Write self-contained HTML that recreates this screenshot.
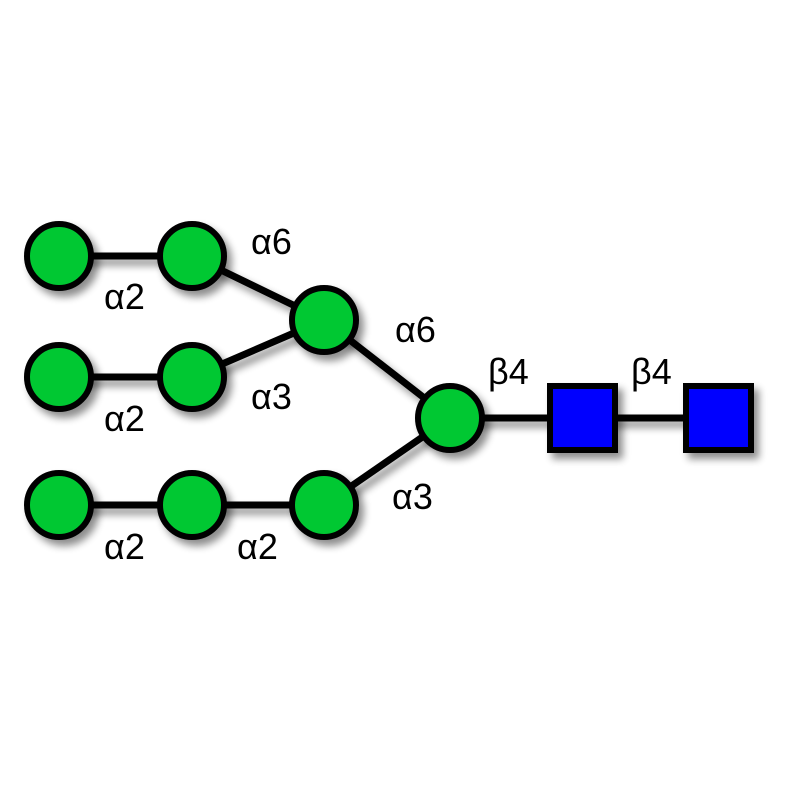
<!DOCTYPE html>
<html><head><style>body{margin:0;background:#fff}</style></head><body>
<svg width="800" height="800" viewBox="0 0 800 800" xmlns="http://www.w3.org/2000/svg">
<defs><filter id="s" x="-30%" y="-30%" width="170%" height="170%"><feGaussianBlur in="SourceAlpha" stdDeviation="4"/><feOffset dx="5" dy="6"/><feComponentTransfer><feFuncA type="linear" slope="0.45"/></feComponentTransfer><feMerge><feMergeNode/><feMergeNode in="SourceGraphic"/></feMerge></filter></defs>
<g stroke="#000" stroke-width="7" filter="url(#s)">
<line x1="59" y1="256" x2="192" y2="256"/><line x1="192" y1="256" x2="324" y2="320"/>
<line x1="59" y1="377" x2="192" y2="377"/><line x1="192" y1="377" x2="324" y2="320"/>
<line x1="59" y1="505" x2="324" y2="505"/><line x1="324" y1="320" x2="450" y2="418"/>
<line x1="324" y1="505" x2="450" y2="418"/><line x1="450" y1="418" x2="718" y2="418"/>
</g>
<g fill="#00c832" stroke="#000" stroke-width="6" filter="url(#s)">
<circle cx="59" cy="256" r="32"/><circle cx="192" cy="256" r="32"/><circle cx="324" cy="320" r="32"/>
<circle cx="59" cy="377" r="32"/><circle cx="192" cy="377" r="32"/>
<circle cx="59" cy="505" r="32"/><circle cx="192" cy="505" r="32"/><circle cx="324" cy="505" r="32"/>
<circle cx="450" cy="418" r="32"/>
<rect x="550" y="386" width="65" height="64" fill="#0000ff"/>
<rect x="686" y="386" width="65" height="64" fill="#0000ff"/>
</g>
<g font-family="Liberation Sans, DejaVu Sans, sans-serif" font-size="36" fill="#000">
<text x="251" y="254">α6</text><text x="104" y="309">α2</text>
<text x="395" y="342">α6</text><text x="251" y="409">α3</text>
<text x="104" y="431">α2</text><text x="104" y="559">α2</text>
<text x="237" y="559">α2</text><text x="392" y="509">α3</text>
<text x="488" y="384">β4</text><text x="631" y="384">β4</text>
</g>
</svg>
</body></html>
